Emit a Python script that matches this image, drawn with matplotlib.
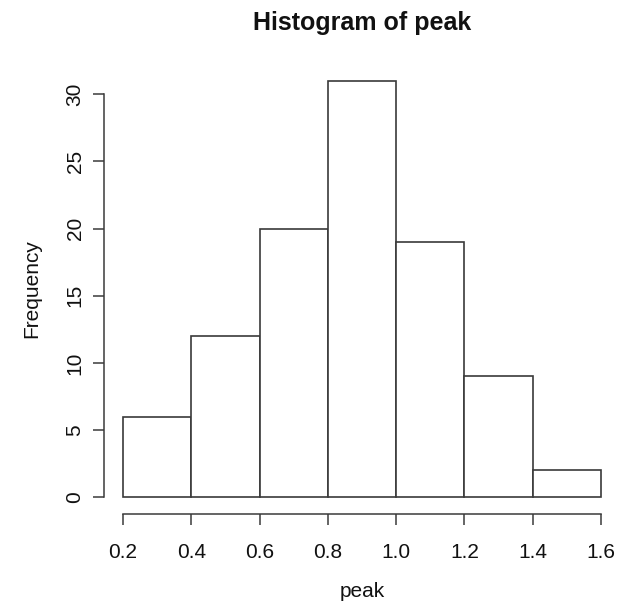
import matplotlib
matplotlib.use("Agg")
import matplotlib.pyplot as plt

# Histogram bins and counts for "peak"
bin_edges = [0.2, 0.4, 0.6, 0.8, 1.0, 1.2, 1.4, 1.6]
counts = [6, 12, 20, 31, 19, 9, 2]
x_ticks = [0.2, 0.4, 0.6, 0.8, 1.0, 1.2, 1.4, 1.6]
x_tick_labels = ["0.2", "0.4", "0.6", "0.8", "1.0", "1.2", "1.4", "1.6"]
y_ticks = [0, 5, 10, 15, 20, 25, 30]

plt.rcParams["font.family"] = ["Liberation Sans", "DejaVu Sans"]
line_col = "#3a3a3a"
text_col = "#111111"

fig = plt.figure(figsize=(6.22, 6.08), dpi=100)
ax = fig.add_axes([104 / 622, 94 / 608, 516 / 622, 450 / 608])

lefts = bin_edges[:-1]
widths = [b - a for a, b in zip(bin_edges[:-1], bin_edges[1:])]
ax.bar(lefts, counts, width=widths, align="edge", color="white",
       edgecolor=line_col, linewidth=1.2)

# R-style 4% axis extension
xr = bin_edges[-1] - bin_edges[0]
ax.set_xlim(bin_edges[0] - 0.04 * xr, bin_edges[-1] + 0.04 * xr)
ymax = max(counts)
ax.set_ylim(-0.04 * ymax, ymax * 1.04)

for s in ["top", "right"]:
    ax.spines[s].set_visible(False)
ax.spines["bottom"].set_bounds(bin_edges[0], bin_edges[-1])
ax.spines["left"].set_bounds(y_ticks[0], y_ticks[-1])
for s in ["bottom", "left"]:
    ax.spines[s].set_color(line_col)
    ax.spines[s].set_linewidth(1.1)

ax.set_xticks(x_ticks)
ax.set_xticklabels(x_tick_labels)
ax.set_yticks(y_ticks)
ax.set_yticklabels([str(v) for v in y_ticks], rotation=90, va="center")
ax.tick_params(axis="both", length=8, width=1.1, color=line_col,
               labelsize=15, labelcolor=text_col)
ax.tick_params(axis="x", pad=13)
ax.tick_params(axis="y", pad=6)

ax.set_xlabel("peak", fontsize=15, color=text_col)
ax.set_ylabel("Frequency", fontsize=15, color=text_col)
ax.xaxis.set_label_coords(0.5, -0.151)
ax.yaxis.set_label_coords(-0.121, 0.5)
fig.text(362 / 622, 1 - 30 / 608, "Histogram of peak", ha="center",
         va="baseline", fontsize=18, fontweight="bold", color=text_col)

fig.savefig("out.png", dpi=100, facecolor="white")
